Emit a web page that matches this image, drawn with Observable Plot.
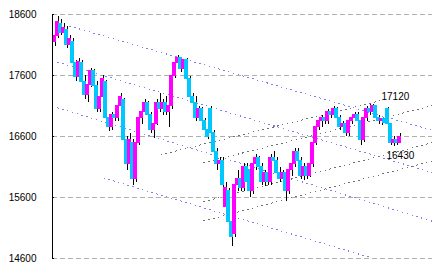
<!DOCTYPE html>
<html><head><meta charset="utf-8">
<script src="https://cdn.jsdelivr.net/npm/d3@7"></script>
<script src="https://cdn.jsdelivr.net/npm/@observablehq/plot@0.6"></script>
<style>
html,body{margin:0;padding:0;background:#fff;}
#chart svg{display:block;shape-rendering:crispEdges;}
#chart svg text{shape-rendering:auto;}
</style>
</head><body><div id="chart"></div>
<script>
// Daily candles (index = trading day)
const opens = [18150,18250,18450,18300,18350,18100,18150,17800,17580,17800,
17500,17280,17450,17680,17420,17050,17250,17500,16900,16750,
16950,16900,17100,17200,16550,16150,16500,15900,16500,16900,
17000,17150,16950,16700,16800,17150,17050,17150,17000,17100,
17600,17800,17880,17700,17850,17550,17250,17150,16900,17050,
16850,16700,17050,16650,16350,16150,16200,15450,15700,15200,
15000,15800,15900,15750,16100,16050,15700,16150,16250,16100,
15850,16000,15850,16250,16200,16000,15900,16000,15700,16050,
16150,16350,16200,15950,16100,15950,16150,16500,16750,16850,
16900,16850,17000,16950,17050,16900,16750,16800,16650,16850,
16900,16950,16850,16550,16900,17050,17000,17100,16900,16850,
16880,17050,16800,16500,16550,16500];
const highs = [18300,18560,18520,18450,18400,18250,18200,17850,17880,17850,
17600,17500,17720,17700,17500,17300,17600,17520,16950,17000,
17050,17150,17300,17220,16600,16650,16550,16600,16950,17050,
17200,17180,17000,16850,17200,17300,17200,17250,17150,17650,
17850,17920,17900,17870,17880,17580,17300,17250,17100,17080,
16900,16800,17100,16700,16400,16250,16250,15850,15750,15350,
15850,16050,16000,16150,16150,16100,16200,16300,16280,16150,
16050,16050,16300,16350,16250,16100,16050,16020,16100,16200,
16400,16400,16250,16150,16150,16200,16550,16800,16900,16950,
16950,17050,17050,17100,17080,16950,16850,16850,16900,16950,
17000,17000,16870,16950,17100,17120,17120,17110,16950,16900,
16920,17080,16820,16600,16600,16650];
const lows = [18080,18200,18250,18200,18050,17950,17750,17500,17550,17450,
17200,17150,17400,17350,17000,17000,17200,16850,16680,16700,
16850,16850,17050,16500,16050,16100,15800,15850,16450,16800,
16950,16900,16650,16560,16780,17000,16950,16950,16750,17050,
17550,17700,17650,17650,17500,17200,17050,16850,16850,16800,
16650,16550,16600,16300,16050,16000,15700,15400,15050,14800,
14950,15700,15700,15700,15800,15600,15650,16050,16050,15800,
15780,15800,15800,16150,15950,15850,15800,15530,15650,15950,
16100,16150,15900,15880,15900,15920,16100,16450,16700,16750,
16800,16800,16900,16900,16850,16700,16650,16600,16600,16800,
16850,16800,16450,16500,16850,16950,16980,16850,16800,16780,
16800,16750,16450,16430,16450,16480];
const closes = [18250,18480,18300,18380,18100,18200,17800,17580,17820,17500,
17280,17450,17680,17420,17050,17250,17550,16900,16750,16950,
16900,17100,17250,16550,16150,16550,15900,16500,16900,17000,
17150,16950,16700,16800,17150,17050,17150,17000,17100,17600,
17800,17880,17700,17850,17550,17250,17150,16900,17050,16850,
16700,16600,16650,16350,16150,16200,15800,15750,15200,14950,
15800,15900,15750,16100,15850,15700,16150,16250,16100,15850,
16000,15850,16250,16200,16000,15900,16000,15700,16050,16150,
16350,16200,15950,16100,15950,16150,16500,16750,16850,16900,
16850,17000,16950,17050,16900,16750,16800,16650,16850,16900,
16950,16850,16550,16900,17050,17000,17100,16900,16850,16880,
16820,16800,16500,16550,16500,16600];

const yTicks = [14600, 15600, 16600, 17600, 18600];

// Trend lines: start/end as [day index, price]
const purpleLineStarts = [[5.3, 18410], [1.3, 17820], [1.3, 17070], [16.7, 15920]];
const purpleLineEnds   = [[126.3, 16700], [126.3, 16010], [126.3, 15210], [106.7, 14600]];
const grayLineStarts = [[35.7, 16300], [50, 16170], [50, 15530], [50, 15215]];
const grayLineEnds   = [[110, 17200], [126.3, 17105], [126.3, 16500], [126.3, 16200]];

// Annotated high / low
const noteIndex = [106, 113];
const noteValue = [17120, 16430];

const candles = opens.map((o, i) => ({i, o, h: highs[i], l: lows[i], c: closes[i]}));
const purple = purpleLineStarts.map((s, k) => ({x1: s[0], y1: s[1], x2: purpleLineEnds[k][0], y2: purpleLineEnds[k][1]}));
const gray = grayLineStarts.map((s, k) => ({x1: s[0], y1: s[1], x2: grayLineEnds[k][0], y2: grayLineEnds[k][1]}));
const notes = noteIndex.map((i, k) => ({i, v: noteValue[k], text: String(noteValue[k])}));

const xDomain = [-1/3, 126 + 1/3];

const chart = Plot.plot({
  width: 432,
  height: 272,
  marginLeft: 52,
  marginRight: 0,
  marginTop: 14,
  marginBottom: 14,
  style: {fontFamily: "'Liberation Sans', Arial, sans-serif", fontSize: "10px", background: "#fff", color: "#000"},
  x: {domain: xDomain, axis: null},
  y: {domain: [14600, 18600], label: null},
  marks: [
    Plot.ruleY(yTicks, {stroke: "#b0b0b0", strokeDasharray: "5,3"}),
    Plot.link(purple, {x1: "x1", y1: "y1", x2: "x2", y2: "y2", stroke: "#8080f0", strokeDasharray: "1.5,3.5", clip: true}),
    Plot.link(gray, {x1: "x1", y1: "y1", x2: "x2", y2: "y2", stroke: "#707070", strokeDasharray: "1.5,3.5", clip: true}),
    Plot.ruleX(candles, {x: "i", y1: "l", y2: "h", stroke: "#000", strokeWidth: 1, dx: 1.5}),
    Plot.rect(candles, {x1: d => d.i - 1/3, x2: d => d.i + 2/3, y1: "o", y2: "c", inset: 0, fill: d => d.c >= d.o ? "#ff00ff" : "#00c8ff", stroke: d => d.c >= d.o ? "#ff00ff" : "#00c8ff", strokeWidth: 1}),
    Plot.ruleX([xDomain[0]], {stroke: "#000"}),
    Plot.ruleY(yTicks, {x1: xDomain[0], x2: xDomain[0] + 0.67, stroke: "#000"}),
    Plot.axisY(yTicks, {tickSize: 0, tickPadding: 16, tickFormat: "d", fontSize: 10, fill: "#000"}),
    Plot.text(notes.slice(0, 1), {x: "i", y: "v", text: "text", textAnchor: "start", dx: 10, dy: -8, fontSize: 10, fill: "#000"}),
    Plot.text(notes.slice(1), {x: "i", y: "v", text: "text", textAnchor: "start", dx: -6, dy: 9, fontSize: 10, fill: "#000"})
  ]
});
document.getElementById("chart").appendChild(chart);
</script>
</body></html>
